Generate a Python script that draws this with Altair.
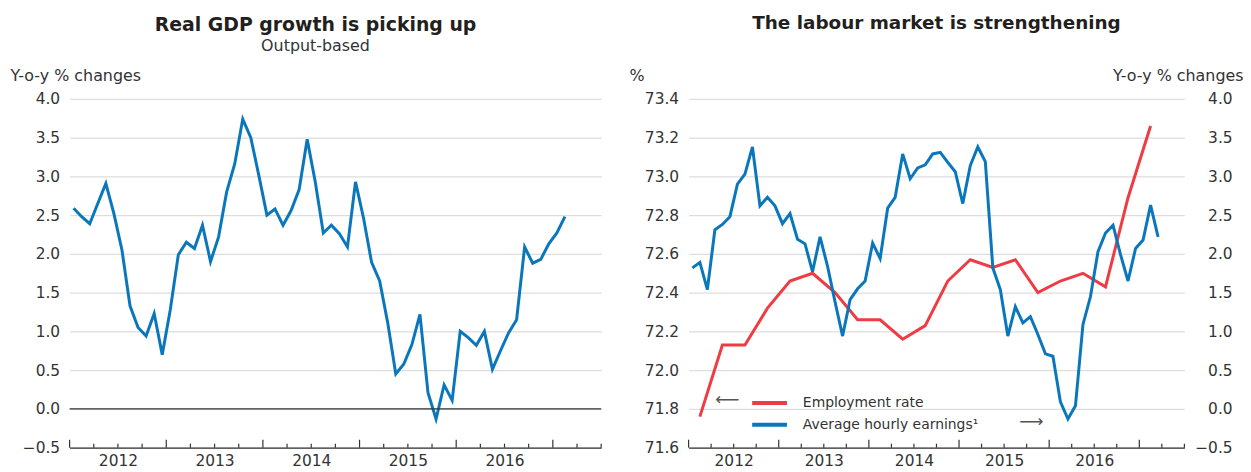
import altair as alt
import pandas as pd

# ---------------- data ----------------
# Real GDP growth (output-based), monthly, Jan 2012 - Feb 2017, y-o-y %
gdp_growth = [2.59, 2.48, 2.39, 2.65, 2.91, 2.52, 2.05, 1.33, 1.05, 0.94,
              1.23, 0.70, 1.28, 1.99, 2.15, 2.07, 2.37, 1.90, 2.22, 2.80,
              3.16, 3.74, 3.50, 3.01, 2.50, 2.58, 2.37, 2.56, 2.83, 3.48,
              2.93, 2.27, 2.37, 2.26, 2.09, 2.93, 2.46, 1.89, 1.65, 1.11,
              0.45, 0.58, 0.83, 1.22, 0.21, -0.13, 0.31, 0.11, 1.00, 0.92,
              0.82, 1.00, 0.51, 0.75, 0.98, 1.15, 2.09, 1.88, 1.93, 2.13,
              2.27, 2.48]
gdp_months = list(range(0, 62))          # month index, 0 = Jan 2012

# Average hourly earnings, monthly, Jan 2012 - Mar 2017, y-o-y %
earnings_growth = [1.82, 1.89, 1.54, 2.31, 2.38, 2.48, 2.90, 3.03, 3.38, 2.62,
                   2.73, 2.62, 2.39, 2.52, 2.19, 2.13, 1.77, 2.22, 1.84, 1.38,
                   0.94, 1.41, 1.55, 1.65, 2.14, 1.94, 2.59, 2.73, 3.29, 2.97,
                   3.11, 3.15, 3.29, 3.31, 3.18, 3.06, 2.65, 3.14, 3.38, 3.19,
                   1.82, 1.54, 0.94, 1.32, 1.11, 1.19, 0.96, 0.71, 0.68, 0.09,
                   -0.13, 0.04, 1.09, 1.45, 2.03, 2.27, 2.37, 1.99, 1.65, 2.07,
                   2.18, 2.63, 2.22]
earnings_months = list(range(0, 63))

# Employment rate, quarterly (centred months Feb, May, Aug, Nov), %
employment_rate = [71.76, 72.13, 72.13, 72.32, 72.46, 72.50, 72.40, 72.26,
                   72.26, 72.16, 72.23, 72.46, 72.57, 72.53, 72.57, 72.40,
                   72.46, 72.50, 72.43, 72.89, 73.26]
employment_months = list(range(1, 62, 3))

year_ticks = [2012, 2013, 2014, 2015, 2016, 2017]
quarter_ticks = [2012.25, 2012.5, 2012.75, 2013.25, 2013.5, 2013.75,
                 2014.25, 2014.5, 2014.75, 2015.25, 2015.5, 2015.75,
                 2016.25, 2016.5, 2016.75, 2017.25, 2017.5]
year_label_pos = [2012.5, 2013.5, 2014.5, 2015.5, 2016.5]
left_y_ticks = [-0.5, 0.0, 0.5, 1.0, 1.5, 2.0, 2.5, 3.0, 3.5, 4.0]
emp_y_ticks = [71.6, 71.8, 72.0, 72.2, 72.4, 72.6, 72.8, 73.0, 73.2, 73.4]

series_names = ["Employment rate", "Average hourly earnings\u00b9"]

# ---------------- styling ----------------
FONT = "DejaVu Sans"
BLUE = "#0a77bd"
RED = "#ee3b44"
TXT = "#333333"
GRID = "#dddddd"
H = 351


def to_x(m):
    return 2012 + (m + 0.5) / 12.0


gdp_df = pd.DataFrame({"x": [to_x(m) for m in gdp_months], "v": gdp_growth})
earn_df = pd.DataFrame({"x": [to_x(m) for m in earnings_months], "v": earnings_growth,
                        "s": series_names[1]})
emp_df = pd.DataFrame({"x": [to_x(m) for m in employment_months], "v": employment_rate,
                       "s": series_names[0]})
major_df = pd.DataFrame({"x": year_ticks})
minor_df = pd.DataFrame({"x": quarter_ticks})

xscale = alt.Scale(domain=[2012, 2017.5], nice=False, zero=False)

X_AXIS = alt.Axis(values=year_label_pos, labelExpr="'' + floor(datum.value)",
                  ticks=False, grid=False, domain=True, domainColor=TXT,
                  domainWidth=1.2, labelPadding=6, labelFontSize=15.5,
                  labelColor=TXT, title=None, labelFont=FONT)

LEFT_Y_AXIS = alt.Axis(values=left_y_ticks, format=".1f", grid=True,
                       gridColor=GRID, gridWidth=1.2, domain=False, ticks=False,
                       labelPadding=10, labelFontSize=15.5, labelColor=TXT,
                       labelFont=FONT,
                       title="Y-o-y % changes", titleAngle=0, titleAlign="left",
                       titleBaseline="alphabetic", titleX=-60, titleY=-19,
                       titleFontSize=16, titleFontWeight="normal",
                       titleColor=TXT, titleFont=FONT)


def tick_layers():
    major = alt.Chart(major_df).mark_rule(color=TXT, strokeWidth=1.2).encode(
        x=alt.X("x:Q", scale=xscale, axis=X_AXIS),
        y=alt.value(H), y2=alt.value(H - 8))
    minor = alt.Chart(minor_df).mark_rule(color=TXT, strokeWidth=1.2).encode(
        x=alt.X("x:Q", scale=xscale, axis=X_AXIS),
        y=alt.value(H), y2=alt.value(H - 4))
    return [major, minor]


# ---------------- left panel ----------------
gdp_yscale = alt.Scale(domain=[-0.5, 4.0], nice=False, zero=False)
gdp_line = alt.Chart(gdp_df).mark_line(color=BLUE, strokeWidth=3).encode(
    x=alt.X("x:Q", scale=xscale, axis=X_AXIS),
    y=alt.Y("v:Q", scale=gdp_yscale, axis=LEFT_Y_AXIS),
)
zero_rule = alt.Chart(pd.DataFrame({"v": [0.0]})).mark_rule(
    color=TXT, strokeWidth=1.3).encode(
    y=alt.Y("v:Q", scale=gdp_yscale, axis=LEFT_Y_AXIS))

left = alt.layer(gdp_line, zero_rule, *tick_layers()).properties(
    width=535, height=H,
    title=alt.TitleParams("Real GDP growth is picking up", subtitle="Output-based",
                          font=FONT, fontSize=19, fontWeight="bold", color="#231f20",
                          subtitleFont=FONT, subtitleFontSize=16, subtitleColor=TXT,
                          subtitlePadding=3, anchor="middle", frame="group",
                          dx=-20, offset=13),
)

# ---------------- right panel ----------------
color_scale = alt.Scale(domain=series_names, range=[RED, BLUE])
legend = alt.Legend(title=None, orient="none", legendX=685, legendY=295,
                    symbolType="stroke", symbolSize=1225, symbolStrokeWidth=4,
                    labelFontSize=14, labelColor=TXT, labelFont=FONT,
                    labelOffset=14, rowPadding=0, clipHeight=22, labelLimit=400)

emp_line = alt.Chart(emp_df).mark_line(strokeWidth=3).encode(
    x=alt.X("x:Q", scale=xscale, axis=X_AXIS),
    y=alt.Y("v:Q", scale=alt.Scale(domain=[71.6, 73.4], nice=False, zero=False),
            axis=alt.Axis(values=emp_y_ticks, format=".1f", grid=True,
                          gridColor=GRID, gridWidth=1.2, domain=False, ticks=False,
                          labelPadding=10, labelFontSize=15.5, labelColor=TXT,
                          labelFont=FONT,
                          title="%", titleAngle=0, titleAlign="left",
                          titleBaseline="alphabetic", titleX=-60, titleY=-19,
                          titleFontSize=16, titleFontWeight="normal",
                          titleColor=TXT, titleFont=FONT)),
    color=alt.Color("s:N", scale=color_scale, legend=legend, sort=series_names),
)
earn_line = alt.Chart(earn_df).mark_line(strokeWidth=3).encode(
    x=alt.X("x:Q", scale=xscale, axis=X_AXIS),
    y=alt.Y("v:Q", scale=alt.Scale(domain=[-0.5, 4.0], nice=False, zero=False),
            axis=alt.Axis(orient="right", values=left_y_ticks, format=".1f",
                          grid=False, domain=False, ticks=False,
                          labelAlign="right", labelPadding=48, labelFontSize=15.5,
                          labelColor=TXT, labelFont=FONT,
                          title="Y-o-y % changes", titleAngle=0, titleAlign="right",
                          titleBaseline="alphabetic", titleX=59, titleY=-19,
                          titleFontSize=16, titleFontWeight="normal",
                          titleColor=TXT, titleFont=FONT)),
    color=alt.Color("s:N", scale=color_scale, legend=legend, sort=series_names),
)

arrow_df = pd.DataFrame({"t": ["\u27f5"]})
arrow_left = alt.Chart(arrow_df).mark_text(font=FONT, fontSize=17, color="#555555",
                                           align="center", baseline="middle").encode(
    text="t:N", x=alt.value(39), y=alt.value(303))
arrow_df2 = pd.DataFrame({"t": ["\u27f6"]})
arrow_right = alt.Chart(arrow_df2).mark_text(font=FONT, fontSize=17, color="#555555",
                                             align="center", baseline="middle").encode(
    text="t:N", x=alt.value(345), y=alt.value(325))

right = alt.layer(
    alt.layer(emp_line, earn_line).resolve_scale(y="independent"),
    *tick_layers(), arrow_left, arrow_right,
).properties(
    width=499, height=H,
    title=alt.TitleParams("The labour market is strengthening",
                          font=FONT, fontSize=18.5, fontWeight="bold", color="#231f20",
                          anchor="middle", frame="group", offset=35),
)

chart = alt.hconcat(left, right, spacing=27).properties(
    padding={"left": 2, "top": 4, "right": 0, "bottom": 0}
).configure(font=FONT, view=alt.ViewConfig(stroke=None))

chart.save("out.html", embed_options={"renderer": "svg", "actions": False})
